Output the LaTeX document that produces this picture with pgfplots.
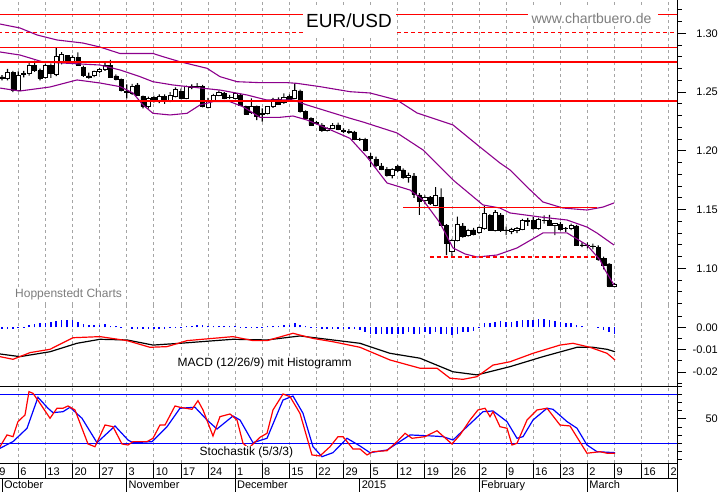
\documentclass[border=0pt]{standalone}
\usepackage{fontspec}
\setmainfont{Liberation Sans}
\usepackage{pgfplots}
\usepackage{pgfplotstable}
\pgfplotsset{compat=1.18}
\definecolor{gridgray}{RGB}{165,165,165}
\definecolor{bandpurple}{RGB}{140,0,140}
\definecolor{txtgray}{RGB}{125,125,125}
\newcommand{\tickfont}{\fontsize{11}{13}\selectfont}
\newcommand{\labfont}{\fontsize{12}{14}\selectfont}

% ---------------- price candles (trading day index, Oct 6 2014 = 0)
\pgfplotstableread{
i O H L C
-3 1.2630 1.2645 1.2600 1.2620
-2 1.2615 1.2698 1.2600 1.2668
-1 1.2668 1.2680 1.2500 1.2517
0 1.2518 1.2675 1.2505 1.2645
1 1.2650 1.2680 1.2625 1.2660
2 1.2658 1.2750 1.2640 1.2724
3 1.2724 1.2768 1.2672 1.2682
4 1.2682 1.2700 1.2600 1.2617
5 1.2626 1.2740 1.2615 1.2730
6 1.2730 1.2745 1.2620 1.2660
7 1.2654 1.2875 1.2635 1.2801
8 1.2760 1.2840 1.2735 1.2821
9 1.2810 1.2815 1.2745 1.2753
10 1.2753 1.2812 1.2740 1.2796
11 1.2796 1.2838 1.2722 1.2730
12 1.2711 1.2725 1.2630 1.2639
13 1.2637 1.2665 1.2615 1.2628
14 1.2639 1.2683 1.2628 1.2673
15 1.2673 1.2705 1.2662 1.2696
16 1.2690 1.2758 1.2680 1.2724
17 1.2724 1.2773 1.2620 1.2626
18 1.2637 1.2650 1.2600 1.2609
19 1.2609 1.2615 1.2505 1.2517
20 1.2510 1.2565 1.2447 1.2500
21 1.2489 1.2570 1.2475 1.2551
22 1.2560 1.2575 1.2470 1.2475
23 1.2460 1.2470 1.2360 1.2375
24 1.2375 1.2460 1.2358 1.2447
25 1.2455 1.2470 1.2410 1.2418
26 1.2418 1.2480 1.2405 1.2466
27 1.2460 1.2480 1.2400 1.2424
28 1.2424 1.2500 1.2415 1.2475
29 1.2466 1.2540 1.2455 1.2523
30 1.2506 1.2530 1.2440 1.2447
31 1.2447 1.2555 1.2440 1.2546
32 1.2546 1.2565 1.2525 1.2543
33 1.2550 1.2575 1.2535 1.2546
34 1.2546 1.2560 1.2370 1.2375
35 1.2370 1.2450 1.2360 1.2432
36 1.2432 1.2485 1.2425 1.2475
37 1.2475 1.2515 1.2465 1.2500
38 1.2488 1.2500 1.2440 1.2449
39 1.2457 1.2475 1.2440 1.2455
40 1.2447 1.2495 1.2440 1.2489
41 1.2475 1.2485 1.2385 1.2390
42 1.2375 1.2385 1.2305 1.2313
43 1.2324 1.2447 1.2315 1.2375
44 1.2375 1.2385 1.2262 1.2290
45 1.2310 1.2362 1.2248 1.2315
46 1.2319 1.2380 1.2310 1.2375
47 1.2375 1.2450 1.2365 1.2438
48 1.2438 1.2455 1.2390 1.2398
49 1.2409 1.2489 1.2400 1.2455
50 1.2466 1.2480 1.2430 1.2438
51 1.2447 1.2574 1.2440 1.2517
52 1.2511 1.2520 1.2325 1.2333
53 1.2333 1.2345 1.2270 1.2277
54 1.2277 1.2285 1.2215 1.2220
55 1.2237 1.2255 1.2225 1.2241
56 1.2220 1.2235 1.2160 1.2171
57 1.2177 1.2200 1.2165 1.2194
58 1.2194 1.2235 1.2185 1.2220
59 1.2220 1.2240 1.2175 1.2182
60 1.2175 1.2190 1.2150 1.2163
61 1.2163 1.2185 1.2145 1.2160
62 1.2160 1.2170 1.2090 1.2098
63 1.2100 1.2110 1.2085 1.2098
64 1.2100 1.2110 1.1995 1.2001
65 1.1950 1.1981 1.1862 1.1940
66 1.1930 1.1950 1.1860 1.1879
67 1.1871 1.1895 1.1835 1.1843
68 1.1843 1.1860 1.1780 1.1794
69 1.1794 1.1850 1.1765 1.1843
70 1.1865 1.1880 1.1820 1.1831
71 1.1837 1.1850 1.1760 1.1774
72 1.1774 1.1815 1.1730 1.1794
73 1.1786 1.1810 1.1600 1.1630
74 1.1624 1.1640 1.1455 1.1567
75 1.1581 1.1620 1.1545 1.1600
76 1.1601 1.1615 1.1540 1.1553
77 1.1536 1.1690 1.1530 1.1619
78 1.1604 1.1680 1.1360 1.1368
79 1.1368 1.1375 1.1113 1.1213
80 1.1141 1.1250 1.1098 1.1241
81 1.1241 1.1439 1.1230 1.1377
82 1.1360 1.1385 1.1262 1.1275
83 1.1283 1.1335 1.1270 1.1326
84 1.1326 1.1345 1.1280 1.1292
85 1.1306 1.1355 1.1295 1.1349
86 1.1340 1.1530 1.1330 1.1468
87 1.1448 1.1460 1.1320 1.1326
88 1.1326 1.1495 1.1315 1.1477
89 1.1455 1.1470 1.1310 1.1326
90 1.1328 1.1354 1.1283 1.1322
91 1.1317 1.1345 1.1290 1.1330
92 1.1320 1.1350 1.1300 1.1337
93 1.1332 1.1420 1.1325 1.1405
94 1.1397 1.1430 1.1360 1.1410
95 1.1411 1.1435 1.1330 1.1340
96 1.1340 1.1430 1.1330 1.1420
97 1.1411 1.1450 1.1380 1.1408
98 1.1405 1.1454 1.1360 1.1363
99 1.1363 1.1385 1.1283 1.1383
100 1.1377 1.1395 1.1320 1.1334
101 1.1336 1.1350 1.1310 1.1338
102 1.1340 1.1380 1.1325 1.1368
103 1.1360 1.1370 1.1195 1.1199
104 1.1199 1.1220 1.1180 1.1195
105 1.1200 1.1220 1.1170 1.1195
106 1.1190 1.1210 1.1160 1.1185
107 1.1180 1.1195 1.1065 1.1080
108 1.1085 1.1100 1.0990 1.1030
109 1.1037 1.1045 1.0840 1.0850
110 1.0845 1.0877 1.0838 1.0866
}\candles

\pgfplotstableread{
i p
-3.38 1.3079
0.31 1.3045
3.45 1.2986
7.14 1.2943
11.94 1.2917
15.07 1.2883
18.76 1.2828
24.85 1.2828
26.70 1.2801
29.83 1.2758
34.82 1.2702
37.21 1.2631
40.35 1.2588
44.59 1.2580
49.57 1.2580
51.42 1.2574
55.66 1.2546
61.20 1.2503
64.89 1.2492
69.87 1.2432
73.56 1.2322
80.20 1.2220
85.18 1.2032
88.87 1.1896
90.72 1.1837
93.86 1.1692
96.81 1.1564
100.49 1.1513
104.92 1.1496
107.87 1.1521
109.90 1.1556
}\upperband

\pgfplotstableread{
i p
-3.38 1.2841
0.31 1.2815
4.56 1.2756
15.07 1.2730
18.76 1.2688
22.45 1.2631
24.85 1.2588
28.54 1.2560
34.08 1.2532
37.21 1.2517
42.19 1.2475
45.89 1.2432
50.68 1.2432
53.27 1.2390
61.20 1.2277
63.60 1.2245
69.87 1.2152
74.67 1.2007
80.20 1.1752
85.74 1.1539
88.87 1.1513
90.72 1.1471
96.25 1.1437
101.24 1.1411
104.92 1.1351
106.77 1.1300
109.90 1.1198
}\midband

\pgfplotstableread{
i p
-3.38 1.2534
-0.98 1.2517
0.31 1.2509
5.85 1.2543
10.83 1.2603
15.07 1.2577
18.76 1.2546
21.16 1.2492
23.01 1.2390
24.85 1.2319
27.99 1.2305
31.13 1.2319
33.52 1.2390
35.92 1.2418
39.06 1.2418
41.46 1.2375
44.59 1.2285
48.28 1.2285
50.68 1.2296
53.27 1.2262
56.96 1.2191
61.20 1.2106
64.34 1.1947
68.03 1.1726
72.27 1.1666
74.67 1.1581
77.80 1.1386
80.20 1.1173
82.42 1.1122
84.63 1.1096
88.32 1.1113
92.01 1.1173
96.81 1.1301
101.24 1.1301
104.92 1.1198
107.32 1.1071
108.25 1.0986
109.90 1.0858
}\lowband

% ---------------- MACD
\pgfplotstableread{
i h
-3 -0.0009
-2 -0.0009
-1 -0.0009
0 -0.0003
1 0.0004
2 0.0010
3 0.0015
4 0.0018
5 0.0021
6 0.0025
7 0.0030
8 0.0033
9 0.0033
10 0.0033
11 0.0025
12 0.0015
13 0.0013
14 0.0010
15 0.0010
16 0.0015
17 0.0006
18 0.0006
19 0.0003
21 -0.0005
22 -0.0006
23 -0.0009
24 -0.0009
25 -0.0007
26 -0.0007
27 -0.0007
28 -0.0004
29 -0.0002
30 0.0002
31 0.0006
32 0.0008
33 0.0010
34 0.0010
35 0.0008
36 0.0008
37 0.0008
38 0.0007
39 0.0007
40 0.0006
41 0.0003
42 0.0003
43 0.0003
44 0.0003
45 0.0003
46 0.0006
47 0.0007
48 0.0007
49 0.0009
50 0.0013
51 0.0018
52 0.0010
53 0.0006
54 0.0003
55 -0.0004
56 -0.0009
57 -0.0009
58 -0.0009
59 -0.0009
60 -0.0009
61 -0.0009
62 -0.0009
63 -0.0012
64 -0.0019
65 -0.0027
66 -0.0027
67 -0.0031
68 -0.0027
69 -0.0027
70 -0.0027
71 -0.0027
72 -0.0019
73 -0.0027
74 -0.0027
75 -0.0022
76 -0.0027
77 -0.0022
78 -0.0031
79 -0.0027
80 -0.0034
81 -0.0027
82 -0.0022
83 -0.0019
84 -0.0015
85 -0.0004
86 0.0018
87 0.0021
88 0.0025
89 0.0030
90 0.0025
91 0.0025
92 0.0030
93 0.0033
94 0.0033
95 0.0033
96 0.0036
97 0.0036
98 0.0033
99 0.0030
100 0.0025
101 0.0021
102 0.0021
103 0.0010
104 0.0006
107 -0.0004
108 -0.0012
109 -0.0019
110 -0.0027
}\hist

\pgfplotstableread{
i m
-3.38 -0.0119
0.31 -0.0131
5.85 -0.0109
10.83 -0.0071
15.07 -0.0053
20.06 -0.0056
24.85 -0.0079
29.83 -0.0071
39.61 -0.0053
45.89 -0.0056
51.97 -0.0038
55.66 -0.0049
63.04 -0.0071
68.58 -0.0116
74.11 -0.0138
80.20 -0.0199
84.63 -0.0213
90.72 -0.0176
96.81 -0.0131
103.08 -0.0089
106.03 -0.0089
108.62 -0.0098
110.09 -0.0109
}\signal

\pgfplotstableread{
i m
-3.38 -0.0131
-0.98 -0.0143
2.16 -0.0113
5.85 -0.0098
10.09 -0.0046
15.07 -0.0041
20.06 -0.0059
24.30 -0.0089
27.44 -0.0086
31.13 -0.0059
39.61 -0.0041
43.30 -0.0059
45.89 -0.0059
50.68 -0.0026
54.37 -0.0049
58.06 -0.0064
63.04 -0.0089
68.58 -0.0146
74.11 -0.0183
77.25 -0.0183
79.65 -0.0228
82.05 -0.0233
84.63 -0.0221
87.58 -0.0169
90.72 -0.0154
94.96 -0.0116
99.94 -0.0079
102.34 -0.0071
105.48 -0.0089
108.62 -0.0116
110.09 -0.0146
}\macd

% ---------------- Stochastics
\pgfplotstableread{
i s
-3.38 15.8
-2.08 30.2
-0.98 28.1
-0.06 46.5
1.24 54.7
1.97 83.2
2.71 81.2
4.00 69.0
5.85 50.6
7.14 62.9
8.25 62.9
9.17 65.7
10.46 60.8
12.86 19.1
14.15 15.8
16.00 42.4
17.47 40.3
19.13 19.1
20.24 17.9
21.16 22.0
23.75 22.0
24.85 26.1
26.14 42.4
27.07 42.4
28.91 65.7
29.83 64.1
32.05 61.6
33.15 72.2
34.08 60.8
35.92 28.9
37.21 52.6
39.06 55.9
40.35 48.5
41.46 20.0
42.50 14.0
44.59 27.3
45.89 32.2
46.99 60.8
48.84 80.4
50.13 77.1
51.97 56.7
54.18 5.7
55.66 4.5
57.51 15.8
58.99 28.1
59.91 28.1
61.75 13.0
63.04 13.0
64.34 5.7
65.44 9.7
68.03 10.9
69.87 22.0
71.35 32.2
72.64 26.1
75.02 28.1
77.25 35.4
80.01 19.1
81.49 30.2
83.34 48.5
84.81 60.8
86.11 62.9
87.03 52.6
87.58 58.7
88.87 40.3
90.17 38.4
91.09 17.9
92.01 20.0
93.86 48.5
95.70 60.8
97.55 62.9
99.94 42.4
101.79 41.2
104.92 7.8
107.32 9.7
108.62 7.8
110.09 7.8
}\stochk

\pgfplotstableread{
i s
-3.38 13.9
-0.98 22.0
1.61 38.4
3.63 76.3
5.48 62.9
6.40 57.5
8.25 58.7
9.54 64.1
11.75 50.6
14.52 20.7
17.84 41.2
20.24 24.0
21.16 20.7
24.67 22.0
27.44 40.3
29.83 62.9
32.60 64.1
34.82 48.5
36.66 37.5
39.61 53.4
40.91 48.5
43.30 20.7
45.89 26.1
48.84 73.0
50.68 77.9
52.53 56.7
54.37 15.8
56.03 3.6
58.06 8.5
60.65 26.1
63.04 16.7
64.89 8.5
68.03 11.8
72.27 30.2
76.51 28.9
78.36 28.1
80.20 24.0
82.79 40.3
85.74 58.7
87.58 59.6
90.17 46.5
92.01 26.1
93.12 28.1
94.96 48.5
97.55 62.9
98.65 61.6
101.24 46.5
103.08 38.4
104.92 17.9
106.77 9.7
110.09 8.5
}\stochd

\pgfplotsset{
  panel/.style={scale only axis, width=677pt, xmin=-3.376, xmax=121.53, anchor=south west,
    axis x line*=bottom, axis y line*=right,
    x axis line style={draw=none},
    xtick={-5,0,...,120}, xticklabels={}, xtick style={draw=none},
    xmajorgrids, major grid style={gridgray, dash pattern=on 3pt off 3pt, line width=0.8pt},
    tick align=outside, major tick length=9pt, minor tick length=4.5pt,
    y axis line style={line width=0.9pt}, ytick style={black, line width=0.8pt},
    minor tick style={black, line width=0.8pt},
    scaled y ticks=false,
    /pgf/number format/assume math mode=true,
    yticklabel style={anchor=east, inner sep=0pt, xshift=32pt, font=\tickfont},
    clip=true},
  over/.style={scale only axis, width=677pt, xmin=-3.376, xmax=121.53, anchor=south west, hide axis, clip=true},
  pricey/.style={at={(0pt,187pt)}, height=305pt, ymin=1.06877, ymax=1.32834},
}
\tikzset{wk/.style={anchor=base west, inner sep=0pt, xshift=1.8pt, font=\tickfont}}

\begin{document}
\begin{tikzpicture}
\useasboundingbox (0,0) rectangle (723pt,492pt);

% price panel: frame, grid, ticks
\begin{axis}[panel, pricey,
  ytick={1.10,1.15,1.20,1.25,1.30},
  minor ytick={1.07,1.08,1.09,1.11,1.12,1.13,1.14,1.16,1.17,1.18,1.19,1.21,1.22,1.23,1.24,1.26,1.27,1.28,1.29,1.31,1.32},
  yticklabel style={/pgf/number format/fixed, /pgf/number format/fixed zerofill, /pgf/number format/precision=2}]
\addplot[draw=none] coordinates {(0,1.2)};
\end{axis}

% wicks
\begin{axis}[over, pricey, ybar stacked, bar width=1.1pt]
\addplot[draw=none, fill=none] table[x=i, y=L] {\candles};
\addplot[fill=black, draw=none] table[x=i, y expr={\thisrow{H}-\thisrow{L}}] {\candles};
\end{axis}

% bodies
\begin{axis}[over, pricey, ybar stacked, bar width=4.2pt]
\addplot[draw=none, fill=none] table[x=i, y expr={min(\thisrow{O},\thisrow{C})}] {\candles};
\addplot[fill=black, draw=black, line width=0.5pt] table[x=i, y expr={max(\thisrow{O}-\thisrow{C},0)}] {\candles};
\addplot[fill=white, draw=black, line width=0.8pt] table[x=i, y expr={max(\thisrow{C}-\thisrow{O},0)}] {\candles};
\end{axis}

% bands and red lines
\begin{axis}[over, pricey]
\addplot[bandpurple, line width=1.1pt] table[x=i, y=p] {\upperband};
\addplot[bandpurple, line width=1.1pt] table[x=i, y=p] {\midband};
\addplot[bandpurple, line width=1.1pt] table[x=i, y=p] {\lowband};
\addplot[red, line width=1.3pt] coordinates {(-5,1.3162) (125,1.3162)};
\addplot[red, line width=1.3pt, dash pattern=on 4pt off 3pt] coordinates {(-5,1.3008) (125,1.3008)};
\addplot[red, line width=1.3pt] coordinates {(-5,1.2881) (125,1.2881)};
\addplot[red, line width=1.3pt] coordinates {(-5,1.2756) (125,1.2756)};
\addplot[red, line width=1.3pt] coordinates {(-5,1.2424) (125,1.2424)};
\addplot[red, line width=1.3pt] coordinates {(71.0,1.1519) (106.8,1.1519)};
\addplot[red, line width=1.3pt, dash pattern=on 4pt off 3pt] coordinates {(75.9,1.1096) (106.8,1.1096)};
\end{axis}

% MACD panel
\begin{axis}[panel, at={(0pt,106pt)}, height=81pt, ymin=-0.026292, ymax=0.010112,
  ytick={-0.02,-0.01,0}, minor ytick={-0.025,-0.015,-0.005,0.005},
  yticklabel style={/pgf/number format/fixed, /pgf/number format/fixed zerofill, /pgf/number format/precision=2}]
\addplot[ycomb, blue, line width=1.6pt] table[x=i, y=h] {\hist};
\addplot[black, line width=1.2pt] table[x=i, y=m] {\signal};
\addplot[red, line width=1.2pt] table[x=i, y=m] {\macd};
\end{axis}

% Stochastics panel
\begin{axis}[panel, at={(0pt,29pt)}, height=77pt, ymin=-4.16, ymax=90.16,
  ytick={50}, minor ytick={0,10,20,30,40,60,70,80,90}]
\addplot[blue, line width=1.2pt] coordinates {(-5,80) (125,80)};
\addplot[blue, line width=1.2pt] coordinates {(-5,20) (125,20)};
\addplot[blue, line width=1.2pt] table[x=i, y=s] {\stochd};
\addplot[red, line width=1.2pt] table[x=i, y=s] {\stochk};
\end{axis}

% date band
\begin{axis}[over, at={(0pt,0pt)}, height=29pt, ymin=0, ymax=29]
\addplot[draw=none] coordinates {(0,5)};
\pgfplotsinvokeforeach{-5,0,...,120}{\draw[line width=0.8pt] (axis cs:#1,14) -- (axis cs:#1,29);}
\pgfplotsinvokeforeach{-3,20,40,63,85,105}{\draw[line width=0.8pt] (axis cs:#1,0) -- (axis cs:#1,14);}
\draw[line width=0.8pt] (axis cs:-5,14) -- (axis cs:125,14);
\node[wk] at (axis cs:-5,16) {29};
\node[wk] at (axis cs:0,16) {6};
\node[wk] at (axis cs:5,16) {13};
\node[wk] at (axis cs:10,16) {20};
\node[wk] at (axis cs:15,16) {27};
\node[wk] at (axis cs:20,16) {3};
\node[wk] at (axis cs:25,16) {10};
\node[wk] at (axis cs:30,16) {17};
\node[wk] at (axis cs:35,16) {24};
\node[wk] at (axis cs:40,16) {1};
\node[wk] at (axis cs:45,16) {8};
\node[wk] at (axis cs:50,16) {15};
\node[wk] at (axis cs:55,16) {22};
\node[wk] at (axis cs:60,16) {29};
\node[wk] at (axis cs:65,16) {5};
\node[wk] at (axis cs:70,16) {12};
\node[wk] at (axis cs:75,16) {19};
\node[wk] at (axis cs:80,16) {26};
\node[wk] at (axis cs:85,16) {2};
\node[wk] at (axis cs:90,16) {9};
\node[wk] at (axis cs:95,16) {16};
\node[wk] at (axis cs:100,16) {23};
\node[wk] at (axis cs:105,16) {2};
\node[wk] at (axis cs:110,16) {9};
\node[wk] at (axis cs:115,16) {16};
\node[wk] at (axis cs:120,16) {23};
\node[wk] at (axis cs:-3,3.5) {October};
\node[wk] at (axis cs:20,3.5) {November};
\node[wk] at (axis cs:40,3.5) {December};
\node[wk] at (axis cs:63,3.5) {2015};
\node[wk] at (axis cs:85,3.5) {February};
\node[wk] at (axis cs:105,3.5) {March};
\end{axis}

% separators
\draw[line width=0.9pt] (0,106pt) -- (677pt,106pt);
\draw[line width=0.9pt] (0,29pt) -- (677pt,29pt);
\draw[line width=0.8pt] (677pt,0) -- (677pt,29pt);

% texts
\fill[white] (303pt,457pt) rectangle (396pt,483.5pt);
\node[anchor=base, inner sep=0pt, font=\fontsize{19}{22}\selectfont] at (349pt,464.7pt) {EUR/USD};
\fill[white] (528pt,466pt) rectangle (658pt,484pt);
\node[anchor=base, inner sep=0pt, text=txtgray, font=\fontsize{14}{16}\selectfont] at (591.5pt,468.7pt) {www.chartbuero.de};
\node[anchor=base west, inner sep=1pt, fill=white, text=txtgray, font=\labfont] at (14pt,194.5pt) {Hoppenstedt Charts};
\node[anchor=base west, inner sep=1pt, fill=white, font=\labfont] at (176.5pt,125pt) {MACD (12/26/9) mit Histogramm};
\node[anchor=base west, inner sep=1pt, fill=white, font=\labfont] at (198.5pt,36.7pt) {Stochastik (5/3/3)};
\end{tikzpicture}
\end{document}
